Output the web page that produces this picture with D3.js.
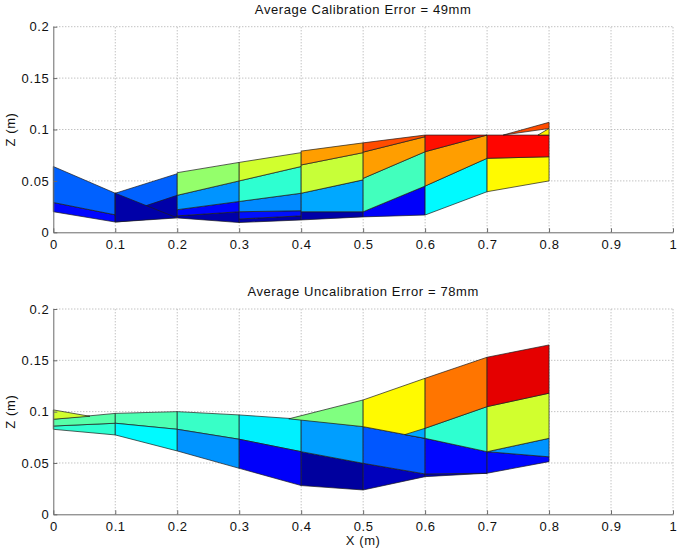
<!DOCTYPE html>
<html lang="en">
<head>
<meta charset="utf-8">
<title>Average calibration error surfaces</title>
<script src="https://d3js.org/d3.v7.min.js"></script>
<style>
  body { margin: 0; background: #fff; }
  text { font-family: "Liberation Sans", Arial, sans-serif; font-size: 13px; letter-spacing: 0.6px; fill: #111; }
  .grid line { stroke: #a8a8a8; stroke-width: 1; stroke-dasharray: 1,2; }
  .axis path, .axis line { stroke: #6a6a6a; }
  .patch { stroke: #1c1c1c; stroke-width: 0.7; stroke-linejoin: round; }
</style>
</head>
<body>
<script>
  // ---- data ----
  const xTicks = [0, 0.1, 0.2, 0.3, 0.4, 0.5, 0.6, 0.7, 0.8, 0.9, 1];
  const zTicks = [0, 0.05, 0.1, 0.15, 0.2];
  const panelTitles = ["Average Calibration Error = 49mm", "Average Uncalibration Error = 78mm"];

  // each patch: [x0, x1, z bottom-left, z top-left, z bottom-right, z top-right, colour value 0..1]
  const calPatches = [
    [0.0, 0.1, 0.020, 0.029, 0.010, 0.017, 0.13],
    [0.0, 0.1, 0.029, 0.064, 0.017, 0.038, 0.22],
    [0.1, 0.2, 0.010, 0.038, 0.015, 0.036, 0.04],
    [0.1, 0.2, 0.016, 0.038, 0.036, 0.057, 0.22],
    [0.1, 0.2, 0.010, 0.038, 0.014, 0.014, 0.04],
    [0.2, 0.3, 0.014, 0.016, 0.0095, 0.020, 0.04],
    [0.2, 0.3, 0.016, 0.022, 0.020, 0.030, 0.13],
    [0.2, 0.3, 0.022, 0.036, 0.030, 0.050, 0.27],
    [0.2, 0.3, 0.036, 0.058, 0.050, 0.068, 0.52],
    [0.3, 0.4, 0.0095, 0.013, 0.012, 0.016, 0.04],
    [0.3, 0.4, 0.013, 0.020, 0.016, 0.021, 0.14],
    [0.3, 0.4, 0.020, 0.030, 0.021, 0.038, 0.26],
    [0.3, 0.4, 0.030, 0.050, 0.038, 0.064, 0.42],
    [0.3, 0.4, 0.050, 0.068, 0.064, 0.0775, 0.58],
    [0.4, 0.5, 0.012, 0.020, 0.015, 0.020, 0.04],
    [0.4, 0.5, 0.020, 0.038, 0.020, 0.051, 0.29],
    [0.4, 0.5, 0.038, 0.0655, 0.051, 0.0775, 0.57],
    [0.4, 0.5, 0.0655, 0.079, 0.0775, 0.087, 0.72],
    [0.5, 0.6, 0.015, 0.020, 0.0168, 0.045, 0.12],
    [0.5, 0.6, 0.020, 0.0525, 0.045, 0.0784, 0.44],
    [0.5, 0.6, 0.0525, 0.078, 0.0784, 0.093, 0.72],
    [0.5, 0.6, 0.078, 0.087, 0.093, 0.0946, 0.80],
    [0.6, 0.7, 0.0168, 0.045, 0.0395, 0.072, 0.37],
    [0.6, 0.7, 0.045, 0.0784, 0.072, 0.0946, 0.72],
    [0.6, 0.7, 0.0784, 0.0946, 0.0946, 0.0946, 0.86],
    [0.7, 0.8, 0.0395, 0.072, 0.050, 0.0735, 0.63],
    [0.7, 0.8, 0.072, 0.0946, 0.0735, 0.0946, 0.87],
    [0.726, 0.8, 0.0946, 0.0946, 0.101, 0.107, 0.80],
    [0.782, 0.8, 0.0946, 0.0946, 0.0946, 0.101, 0.64]
  ];

  const uncalPatches = [
    [0.0, 0.1, 0.0828, 0.086, 0.0773, 0.0887, 0.42],
    [0.0, 0.1, 0.086, 0.0926, 0.0887, 0.0983, 0.46],
    [0.0, 0.059, 0.0926, 0.1017, 0.0955, 0.0955, 0.58],
    [0.1, 0.2, 0.0887, 0.0983, 0.0828, 0.100, 0.45],
    [0.1, 0.2, 0.0773, 0.0887, 0.0617, 0.0828, 0.37],
    [0.2, 0.3, 0.0828, 0.100, 0.0731, 0.0968, 0.43],
    [0.2, 0.3, 0.0617, 0.0828, 0.0448, 0.0731, 0.27],
    [0.3, 0.4, 0.0731, 0.0968, 0.061, 0.0926, 0.36],
    [0.3, 0.4, 0.0448, 0.0731, 0.028, 0.061, 0.12],
    [0.4, 0.5, 0.028, 0.061, 0.0237, 0.0497, 0.03],
    [0.4, 0.5, 0.061, 0.0926, 0.0497, 0.0854, 0.28],
    [0.38, 0.5, 0.093, 0.093, 0.0854, 0.1114, 0.50],
    [0.5, 0.6, 0.0237, 0.0497, 0.0367, 0.0393, 0.06],
    [0.5, 0.6, 0.0497, 0.0854, 0.0393, 0.074, 0.21],
    [0.5, 0.6, 0.0854, 0.1114, 0.074, 0.1325, 0.63],
    [0.567, 0.6, 0.0776, 0.0776, 0.074, 0.0838, 0.29],
    [0.6, 0.7, 0.0367, 0.0393, 0.040, 0.040, 0.06],
    [0.6, 0.7, 0.0393, 0.074, 0.040, 0.061, 0.13],
    [0.6, 0.7, 0.074, 0.0838, 0.061, 0.1049, 0.42],
    [0.6, 0.7, 0.0838, 0.1325, 0.1049, 0.153, 0.76],
    [0.7, 0.8, 0.040, 0.061, 0.0513, 0.056, 0.13],
    [0.7, 0.8, 0.061, 0.061, 0.056, 0.074, 0.27],
    [0.7, 0.8, 0.061, 0.1049, 0.074, 0.118, 0.58],
    [0.7, 0.8, 0.1049, 0.153, 0.118, 0.165, 0.90]
  ];

  // ---- layout ----
  const width = 678, height = 552;
  const plotLeft = 53.3, plotRight = 673;
  const panels = [
    { patches: calPatches, title: panelTitles[0], top: 26.7, bottom: 232.3, xLabel: false },
    { patches: uncalPatches, title: panelTitles[1], top: 309, bottom: 514.3, xLabel: true }
  ];

  const svg = d3.select("body").append("svg")
    .attr("width", width)
    .attr("height", height);

  const x = d3.scaleLinear().domain([0, 1]).range([plotLeft, plotRight]);

  // MATLAB jet colormap
  function jet(v) {
    const c = t => Math.max(0, Math.min(1, t));
    const r = c(1.5 - Math.abs(4 * v - 3));
    const g = c(1.5 - Math.abs(4 * v - 2));
    const b = c(1.5 - Math.abs(4 * v - 1));
    return d3.rgb(r * 255, g * 255, b * 255).formatHex();
  }

  panels.forEach(p => {
    const z = d3.scaleLinear().domain([0, 0.2]).range([p.bottom, p.top]);
    const g = svg.append("g");

    // grid
    const grid = g.append("g").attr("class", "grid");
    grid.selectAll(".gx")
      .data(xTicks.slice(1))
      .join("line")
      .attr("x1", d => x(d)).attr("x2", d => x(d))
      .attr("y1", z(0)).attr("y2", z(0.2));
    grid.selectAll(".gz")
      .data(zTicks.slice(1))
      .join("line")
      .attr("x1", x(0)).attr("x2", x(1))
      .attr("y1", d => z(d)).attr("y2", d => z(d));

    // surface patches
    g.append("g").selectAll("path")
      .data(p.patches)
      .join("path")
      .attr("class", "patch")
      .attr("fill", d => jet(d[6]))
      .attr("d", d => {
        const pts = [[d[0], d[2]], [d[0], d[3]], [d[1], d[5]], [d[1], d[4]]];
        return "M" + pts.map(q => x(q[0]) + "," + z(q[1])).join("L") + "Z";
      });

    // axes
    g.append("g")
      .attr("class", "axis")
      .attr("transform", `translate(0,${z(0)})`)
      .call(d3.axisBottom(x).tickValues(xTicks).tickFormat(d => String(d))
        .tickSizeInner(-4).tickSizeOuter(0).tickPadding(7))
      .call(s => s.selectAll("text").style("font-size", "13px").attr("fill", "#111")
        .attr("font-family", null));

    g.append("g")
      .attr("class", "axis")
      .attr("transform", `translate(${x(0)},0)`)
      .call(d3.axisLeft(z).tickValues(zTicks).tickFormat(d => String(d))
        .tickSizeInner(-4).tickSizeOuter(0).tickPadding(4))
      .call(s => s.selectAll("text").style("font-size", "13px").attr("fill", "#111")
        .attr("font-family", null));

    g.append("text")
      .attr("x", (plotLeft + plotRight) / 2)
      .attr("y", p.top - 13)
      .attr("text-anchor", "middle")
      .text(p.title);

    g.append("text")
      .attr("transform", `translate(15,${(p.top + p.bottom) / 2}) rotate(-90)`)
      .attr("text-anchor", "middle")
      .text("Z (m)");

    if (p.xLabel) {
      g.append("text")
        .attr("x", (plotLeft + plotRight) / 2)
        .attr("y", p.bottom + 31)
        .attr("text-anchor", "middle")
        .text("X (m)");
    }
  });
</script>
</body>
</html>
